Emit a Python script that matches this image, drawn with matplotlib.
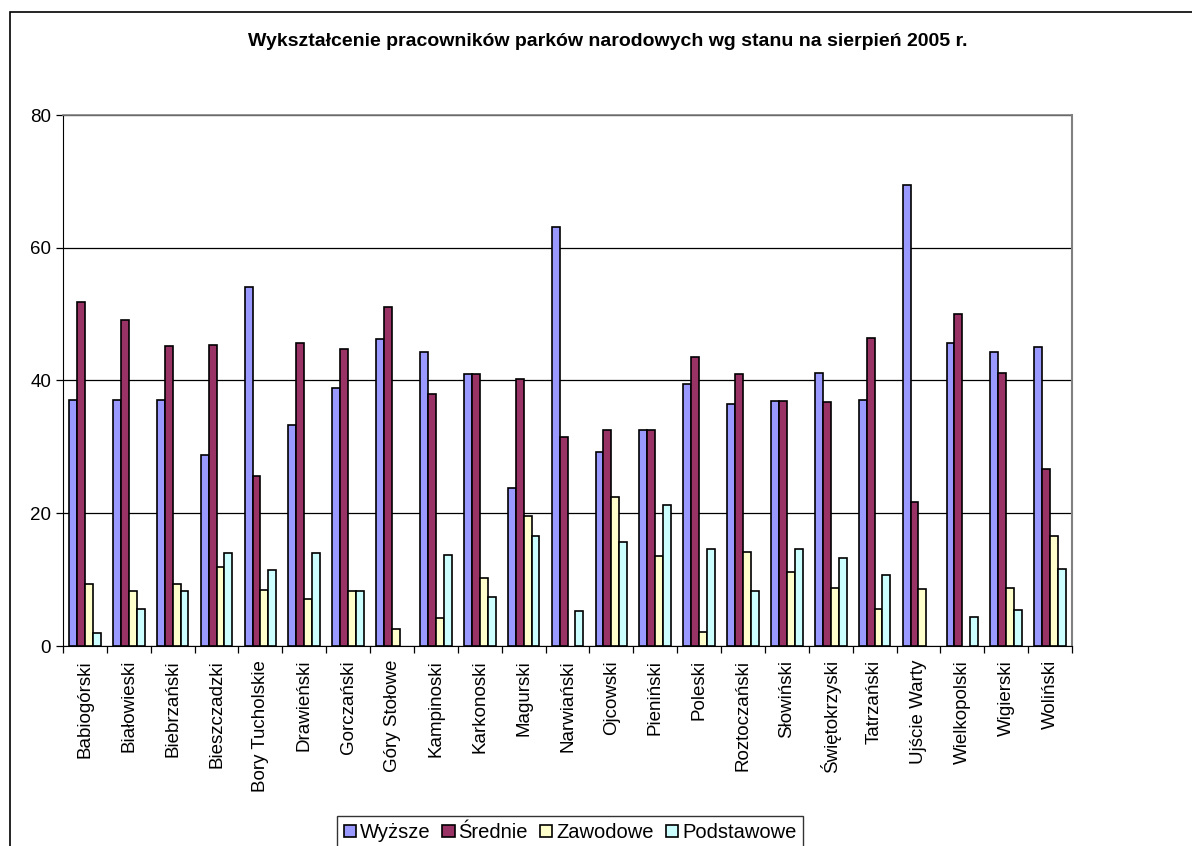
import numpy as np
import matplotlib
matplotlib.use('Agg')
import matplotlib.pyplot as plt
from matplotlib.patches import Rectangle

plt.rcParams['font.family'] = ['Liberation Sans', 'DejaVu Sans']

parks = ['Babiogórski', 'Białowieski', 'Biebrzański', 'Bieszczadzki', 'Bory Tucholskie',
         'Drawieński', 'Gorczański', 'Góry Stołowe', 'Kampinoski', 'Karkonoski',
         'Magurski', 'Narwiański', 'Ojcowski', 'Pieniński', 'Poleski', 'Roztoczański',
         'Słowiński', 'Świętokrzyski', 'Tatrzański', 'Ujście Warty', 'Wielkopolski',
         'Wigierski', 'Woliński']

wyzsze = [37.0, 37.0, 37.0, 28.8, 54.1, 33.3, 38.8, 46.3, 44.3, 41.0, 23.8, 63.1,
          29.2, 32.6, 39.5, 36.5, 36.9, 41.1, 37.0, 69.5, 45.7, 44.3, 45.0]
srednie = [51.8, 49.1, 45.2, 45.4, 25.6, 45.7, 44.7, 51.1, 37.9, 41.0, 40.2, 31.5,
           32.6, 32.6, 43.6, 41.0, 36.9, 36.8, 46.4, 21.7, 50.0, 41.1, 26.7]
zawodowe = [9.4, 8.3, 9.4, 11.9, 8.5, 7.1, 8.3, 2.5, 4.2, 10.3, 19.6, 0.0,
            22.4, 13.5, 2.1, 14.2, 11.2, 8.8, 5.6, 8.6, 0.0, 8.8, 16.6]
podstawowe = [1.9, 5.5, 8.3, 14.0, 11.5, 14.0, 8.3, 0.0, 13.7, 7.4, 16.5, 5.3,
              15.6, 21.2, 14.6, 8.3, 14.6, 13.2, 10.7, 0.0, 4.3, 5.4, 11.6]

series = ['Wyższe', 'Średnie', 'Zawodowe', 'Podstawowe']
colors = ['#9999FF', '#993366', '#FFFFCC', '#CCFFFF']

fig = plt.figure(figsize=(11.92, 8.46), dpi=100)

# outer chart-area frame (runs off right and bottom edges like the original)
fig.add_artist(Rectangle((10 / 1192, -0.1), 1.2, 1 - 12 / 846 + 0.1,
                         transform=fig.transFigure, fill=False,
                         edgecolor='black', linewidth=1.2))

ax = fig.add_axes([63 / 1192, 1 - 646 / 846, (1072 - 63) / 1192, (646 - 115) / 846])

x = np.arange(len(parks))
w = 0.18
data = [wyzsze, srednie, zawodowe, podstawowe]
for i, (vals, c, name) in enumerate(zip(data, colors, series)):
    vals = np.array(vals)
    ax.bar(x + (i - 1.5) * w, np.where(vals > 0, vals, np.nan), w, color=c,
           edgecolor='black', linewidth=1.2, label=name, zorder=3)

ax.set_xlim(-0.5, len(parks) - 0.5)
ax.set_ylim(0, 80)
ax.set_yticks([0, 20, 40, 60, 80])
ax.yaxis.grid(True, color='black', linewidth=0.9, zorder=0)
ax.set_xticks(np.arange(len(parks) + 1) - 0.5, minor=False)
ax.set_xticklabels([])
ax.set_xticks(x, minor=True)
ax.set_xticklabels(parks, minor=True, rotation=90, fontsize=13.5)
ax.tick_params(axis='x', which='minor', length=0, pad=10)
ax.tick_params(axis='x', which='major', length=5, direction='out', width=0.9)
ax.tick_params(axis='y', length=5, direction='out', labelsize=13.5, width=0.9)

ax.spines['left'].set_color('black')
ax.spines['bottom'].set_color('black')
ax.spines['top'].set_color('#808080')
ax.spines['right'].set_color('#808080')
ax.spines['right'].set_linewidth(1.5)
ax.spines['top'].set_linewidth(1.2)

fig.text(608 / 1192, 1 - 41 / 846,
         'Wykształcenie pracowników parków narodowych wg stanu na sierpień 2005 r.',
         ha='center', va='center', fontsize=14, fontweight='bold')

leg = fig.legend(loc='upper center', bbox_to_anchor=(570 / 1192, 1 - 806 / 846),
                 ncol=4, fontsize=14.5, frameon=True, fancybox=False,
                 edgecolor='black', handlelength=0.6, handleheight=0.6,
                 handletextpad=0.2, columnspacing=0.6, borderpad=0.35)
leg.get_frame().set_linewidth(1.0)

fig.savefig('out.png', dpi=100, facecolor='white')
